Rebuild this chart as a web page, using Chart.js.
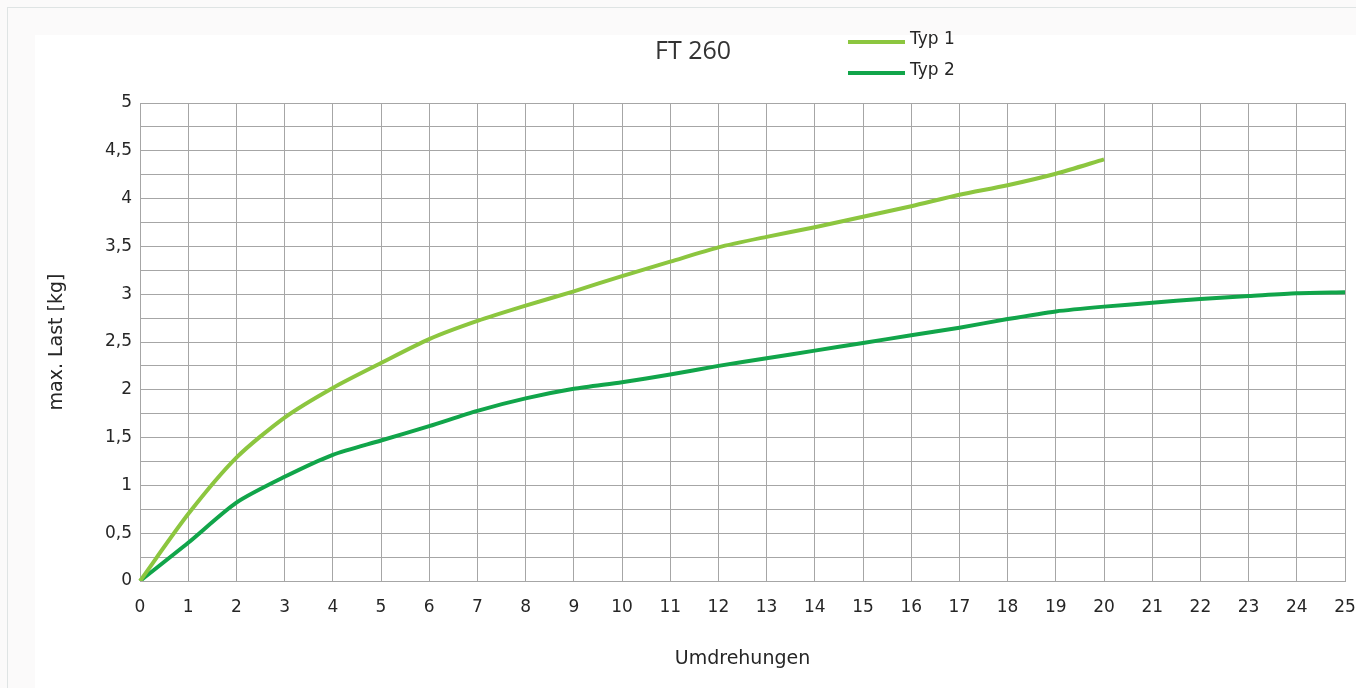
<!DOCTYPE html>
<html>
<head>
<meta charset="utf-8">
<title>FT 260</title>
<script src="https://cdn.jsdelivr.net/npm/chart.js@4/dist/chart.umd.min.js"></script>
<style>
  html, body { margin: 0; padding: 0; background: #fff; }
  #wrap { position: relative; width: 1356px; height: 688px; }
</style>
</head>
<body>
<div id="wrap"><canvas id="chart" width="1356" height="688"></canvas></div>
<script>
// ---------- data ----------
const umdrehungen = ["0","1","2","3","4","5","6","7","8","9","10","11","12","13","14","15","16","17","18","19","20","21","22","23","24","25"];
const typ1 = [0, 0.70, 1.29, 1.71, 2.02, 2.28, 2.53, 2.72, 2.88, 3.03, 3.19, 3.34, 3.49, 3.60, 3.70, 3.81, 3.92, 4.04, 4.14, 4.26, 4.41];
const typ2 = [0, 0.40, 0.82, 1.09, 1.32, 1.47, 1.62, 1.78, 1.91, 2.01, 2.08, 2.16, 2.25, 2.33, 2.41, 2.49, 2.57, 2.65, 2.74, 2.82, 2.87, 2.91, 2.95, 2.98, 3.01, 3.02];

const GRID = "#a6a6a6";
const TEXT = "#262626";
const C1 = "#8cc63f";
const C2 = "#11a54a";

// ---------- plugins ----------
const frame = {
  id: "frame",
  beforeDraw(chart) {
    const c = chart.ctx;
    c.save();
    c.fillStyle = "#fbfafa";
    c.fillRect(0, 0, chart.width, chart.height);
    c.strokeStyle = "#dfe4e4";
    c.lineWidth = 1;
    c.strokeRect(7.5, 7.5, chart.width - 6, chart.height);
    c.fillStyle = "#ffffff";
    c.fillRect(35, 35, chart.width - 35, chart.height - 35);
    c.restore();
  },
};

const header = {
  id: "header",
  afterDraw(chart) {
    const c = chart.ctx;
    c.save();
    c.fillStyle = "#333333";
    c.font = "25px 'Open Sans'";
    c.textAlign = "center";
    c.textBaseline = "middle";
    c.fillText("FT 260", 693, 52);
    // legend, stacked vertically
    c.font = "17px 'DejaVu Sans'";
    c.textAlign = "left";
    chart.data.datasets.forEach((ds, i) => {
      const y = 42 + i * 31;
      c.strokeStyle = ds.borderColor;
      c.lineWidth = 4;
      c.beginPath();
      c.moveTo(848, y);
      c.lineTo(905, y);
      c.stroke();
      c.fillStyle = TEXT;
      c.fillText(ds.label, 910, y - 2);
    });
    c.restore();
  },
};

// ---------- chart ----------
const tickFont = { family: "DejaVu Sans", size: 17 };
const titleFont = { family: "DejaVu Sans", size: 19 };

new Chart(document.getElementById("chart"), {
  type: "line",
  data: {
    labels: umdrehungen,
    datasets: [
      { label: "Typ 1", data: typ1, borderColor: C1, backgroundColor: C1, borderWidth: 4,
        pointRadius: 0, tension: 0.25 },
      { label: "Typ 2", data: typ2, borderColor: C2, backgroundColor: C2, borderWidth: 4,
        pointRadius: 0, tension: 0.25 },
    ],
  },
  options: {
    responsive: false,
    animation: false,
    layout: { padding: { left: 40, right: 11, top: 103, bottom: 18 } },
    plugins: {
      legend: { display: false },
      title: { display: false },
      tooltip: { enabled: false },
    },
    scales: {
      x: {
        offset: false,
        grid: { color: GRID, lineWidth: 1, drawTicks: false },
        border: { color: GRID },
        ticks: { color: TEXT, font: tickFont, padding: 16, maxRotation: 0, autoSkip: false },
        title: { display: true, text: "Umdrehungen", color: TEXT, font: titleFont,
          padding: { top: 0, bottom: 0 } },
        afterFit(s) { s.height = 670 - 581; s.paddingRight = 0; },
      },
      y: {
        min: 0, max: 5,
        grid: { color: GRID, lineWidth: 1, drawTicks: false },
        border: { color: GRID },
        ticks: {
          stepSize: 0.25, autoSkip: false, color: TEXT, font: tickFont, padding: 8,
          callback: (v) => (Math.abs(v * 2 - Math.round(v * 2)) < 1e-6 ? String(v).replace(".", ",") : ""),
        },
        title: { display: true, text: "max. Last [kg]", color: TEXT, font: titleFont,
          padding: { top: 6, bottom: 0 } },
        afterFit(s) { s.width = 140 - 40; },
      },
    },
  },
  plugins: [frame, header],
});
</script>
</body>
</html>
